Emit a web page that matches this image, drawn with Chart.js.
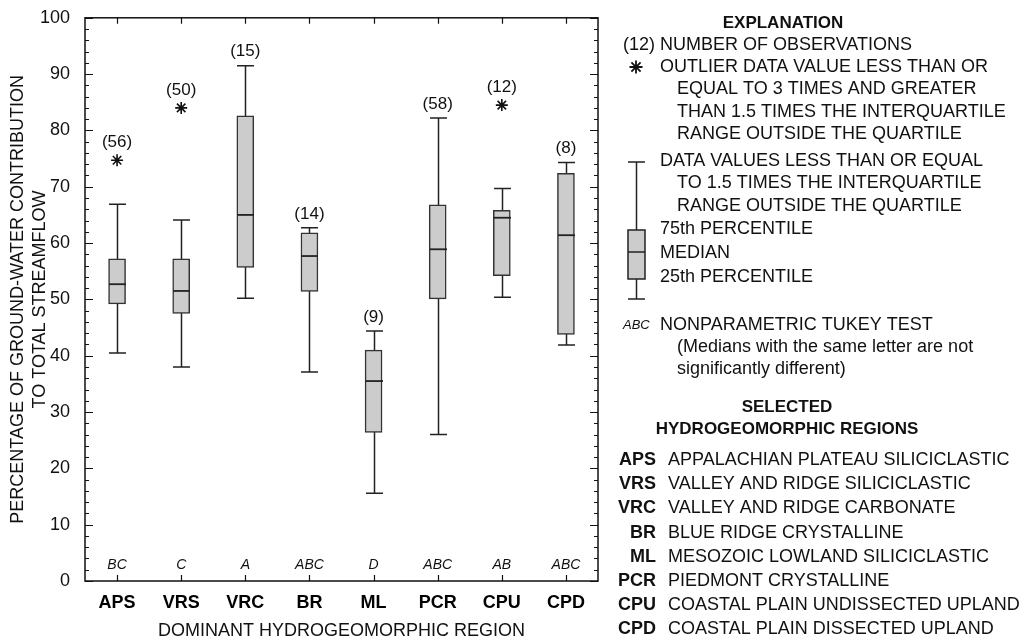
<!DOCTYPE html>
<html>
<head>
<meta charset="utf-8">
<script src="https://cdn.jsdelivr.net/npm/chart.js@4.4.0/dist/chart.umd.min.js"></script>
<style>
  html, body { margin: 0; padding: 0; background: #fff; }
  #wrap { position: relative; width: 1027px; height: 640px; }
</style>
</head>
<body>
<div id="wrap"><canvas id="chart" width="1027" height="640"></canvas></div>
<script>
// box plot statistics (percent)
const regions     = ['APS', 'VRS', 'VRC', 'BR', 'ML', 'PCR', 'CPU', 'CPD'];
const whiskerLow  = [40.5, 38.0, 50.2, 37.1, 15.6, 26.0, 50.4, 41.9];
const quartile1   = [49.2, 47.5, 55.7, 51.4, 26.4, 50.1, 54.2, 43.8];
const medians     = [52.7, 51.5, 65.0, 57.7, 35.5, 58.9, 64.5, 61.4];
const quartile3   = [57.2, 57.2, 82.6, 61.8, 41.0, 66.8, 65.8, 72.4];
const whiskerHigh = [66.9, 64.1, 91.5, 62.7, 44.4, 82.2, 69.7, 74.3];
const outliers    = [74.7, 84.0, null, null, null, null, 84.5, null];
const counts      = [56, 50, 15, 14, 9, 58, 12, 8];
const tukeyGroups = ['BC', 'C', 'A', 'ABC', 'D', 'ABC', 'AB', 'ABC'];

const regionNames = [
  'APPALACHIAN PLATEAU SILICICLASTIC',
  'VALLEY AND RIDGE SILICICLASTIC',
  'VALLEY AND RIDGE CARBONATE',
  'BLUE RIDGE CRYSTALLINE',
  'MESOZOIC LOWLAND SILICICLASTIC',
  'PIEDMONT CRYSTALLINE',
  'COASTAL PLAIN UNDISSECTED UPLAND',
  'COASTAL PLAIN DISSECTED UPLAND'
];

const FONT = '"Liberation Sans", Arial, Helvetica, sans-serif';
Chart.defaults.font.family = FONT;
Chart.defaults.color = '#111';

const BOX_W = 17;

// whiskers go under the boxes, medians on top
const boxPlot = {
  id: 'boxPlot',
  beforeDatasetsDraw(chart) {
    const { ctx, scales: { x, y } } = chart;
    ctx.save();
    ctx.strokeStyle = '#222';
    ctx.lineWidth = 1.5;
    regions.forEach((r, i) => {
      const px = Math.round(x.getPixelForValue(i)) + 0.5;
      const lo = y.getPixelForValue(whiskerLow[i]);
      const hi = y.getPixelForValue(whiskerHigh[i]);
      ctx.beginPath();
      ctx.moveTo(px, lo); ctx.lineTo(px, hi);
      ctx.moveTo(px - BOX_W / 2, lo); ctx.lineTo(px + BOX_W / 2, lo);
      ctx.moveTo(px - BOX_W / 2, hi); ctx.lineTo(px + BOX_W / 2, hi);
      ctx.stroke();
    });
    ctx.restore();
  },
  afterDatasetsDraw(chart) {
    const { ctx, scales: { x, y }, chartArea } = chart;
    ctx.save();
    ctx.strokeStyle = '#222';
    ctx.lineWidth = 1.8;
    regions.forEach((r, i) => {
      const px = Math.round(x.getPixelForValue(i)) + 0.5;
      const m = y.getPixelForValue(medians[i]);
      ctx.beginPath();
      ctx.moveTo(px - BOX_W / 2, m); ctx.lineTo(px + BOX_W / 2, m);
      ctx.stroke();
    });
    // number of observations above each box
    ctx.fillStyle = '#111';
    ctx.textAlign = 'center';
    ctx.textBaseline = 'middle';
    ctx.font = '17px ' + FONT;
    regions.forEach((r, i) => {
      const px = x.getPixelForValue(i);
      const top = outliers[i] != null ? y.getPixelForValue(outliers[i]) - 18 : y.getPixelForValue(whiskerHigh[i]) - 14;
      ctx.fillText('(' + counts[i] + ')', px, top);
    });
    // tukey letters
    ctx.font = 'italic 14px ' + FONT;
    regions.forEach((r, i) => {
      ctx.fillText(tukeyGroups[i], x.getPixelForValue(i), chartArea.bottom - 16);
    });
    ctx.restore();
  },
  afterDraw(chart) {
    const { ctx, scales: { x, y }, chartArea: a } = chart;
    ctx.save();
    ctx.strokeStyle = '#111';
    ctx.lineWidth = 1.5;
    ctx.strokeRect(a.left, a.top, a.right - a.left, a.bottom - a.top);
    ctx.lineWidth = 1.2;
    ctx.beginPath();
    regions.forEach((r, i) => {
      const px = Math.round(x.getPixelForValue(i)) + 0.5;
      ctx.moveTo(px, a.bottom); ctx.lineTo(px, a.bottom - 6);
      ctx.moveTo(px, a.top); ctx.lineTo(px, a.top + 6);
    });
    for (let v = 0; v <= 100; v += 2) {
      const py = Math.round(y.getPixelForValue(v)) + 0.5;
      const len = v % 10 === 0 ? 8 : 4;
      ctx.moveTo(a.left, py); ctx.lineTo(a.left + len, py);
      ctx.moveTo(a.right, py); ctx.lineTo(a.right - len, py);
    }
    ctx.stroke();
    ctx.restore();
    drawExplanation(chart);
  }
};

function drawExplanation(chart) {
  const { ctx } = chart;
  const T = 660, IND = 677;
  ctx.save();
  ctx.fillStyle = '#111';
  ctx.textBaseline = 'middle';
  const txt = (s, x, yy, f, align) => {
    ctx.font = f || ('18px ' + FONT);
    ctx.textAlign = align || 'left';
    ctx.fillText(s, x, yy);
  };
  txt('EXPLANATION', 783, 23, 'bold 17px ' + FONT, 'center');
  txt('(12)', 623, 45);
  txt('NUMBER OF OBSERVATIONS', T, 45);
  ctx.strokeStyle = '#111';
  ctx.lineWidth = 1.8;
  Chart.helpers.drawPoint(ctx, { pointStyle: 'star', radius: 6.5, borderWidth: 1.8 }, 636, 67);
  txt('OUTLIER DATA VALUE LESS THAN OR', T, 67);
  txt('EQUAL TO 3 TIMES AND GREATER', IND, 89);
  txt('THAN 1.5 TIMES THE INTERQUARTILE', IND, 112);
  txt('RANGE OUTSIDE THE QUARTILE', IND, 134);
  txt('DATA VALUES LESS THAN OR EQUAL', T, 161);
  txt('TO 1.5 TIMES THE INTERQUARTILE', IND, 183);
  txt('RANGE OUTSIDE THE QUARTILE', IND, 206);
  txt('75th PERCENTILE', T, 229);
  txt('MEDIAN', T, 253);
  txt('25th PERCENTILE', T, 277);

  // sample box
  const cx = 636.5;
  ctx.strokeStyle = '#222';
  ctx.lineWidth = 1.5;
  ctx.beginPath();
  ctx.moveTo(cx, 162); ctx.lineTo(cx, 299);
  ctx.moveTo(cx - 8.5, 162); ctx.lineTo(cx + 8.5, 162);
  ctx.moveTo(cx - 8.5, 299); ctx.lineTo(cx + 8.5, 299);
  ctx.stroke();
  ctx.fillStyle = '#cccccc';
  ctx.fillRect(cx - 8.5, 230, 17, 49);
  ctx.strokeRect(cx - 8.5, 230, 17, 49);
  ctx.beginPath();
  ctx.moveTo(cx - 8.5, 252); ctx.lineTo(cx + 8.5, 252);
  ctx.stroke();
  ctx.fillStyle = '#111';

  txt('ABC', 623, 325, 'italic 13px ' + FONT);
  txt('NONPARAMETRIC TUKEY TEST', T, 325);
  txt('(Medians with the same letter are not', IND, 347);
  txt('significantly different)', IND, 369);

  txt('SELECTED', 787, 407, 'bold 17px ' + FONT, 'center');
  txt('HYDROGEOMORPHIC REGIONS', 787, 429, 'bold 17px ' + FONT, 'center');
  regions.forEach((r, i) => {
    const yy = 460 + i * 24.2;
    txt(r, 656, yy, 'bold 18px ' + FONT, 'right');
    txt(regionNames[i], 668, yy);
  });
  ctx.restore();
}

new Chart(document.getElementById('chart'), {
  type: 'bar',
  data: {
    labels: regions,
    datasets: [
      {
        type: 'line',
        data: outliers,
        showLine: false,
        pointStyle: 'star',
        pointRadius: 6,
        pointBorderWidth: 1.6,
        borderColor: '#111',
        backgroundColor: '#111'
      },
      {
        data: regions.map((r, i) => [quartile1[i], quartile3[i]]),
        backgroundColor: '#cccccc',
        borderColor: '#333',
        borderWidth: 1.5,
        borderSkipped: false,
        barThickness: BOX_W
      }
    ]
  },
  options: {
    responsive: false,
    animation: false,
    layout: { padding: { top: 15, right: 429, left: 0, bottom: 0 } },
    plugins: { legend: { display: false }, tooltip: { enabled: false } },
    scales: {
      x: {
        grid: { display: false },
        border: { display: false },
        ticks: { font: { size: 18, weight: 'bold' }, color: '#000', padding: 3 },
        title: {
          display: true,
          text: 'DOMINANT HYDROGEOMORPHIC REGION',
          font: { size: 18, lineHeight: 1 },
          padding: 0,
          color: '#111'
        },
        afterFit: s => { s.height = 59; }
      },
      y: {
        min: 0,
        max: 100,
        grid: { display: false },
        border: { display: false },
        ticks: { stepSize: 10, font: { size: 18 }, color: '#111', padding: 7 },
        title: {
          display: true,
          text: ['PERCENTAGE OF GROUND-WATER CONTRIBUTION', 'TO TOTAL STREAMFLOW'],
          font: { size: 18, lineHeight: 1.22 },
          padding: { top: 7, bottom: 0 },
          color: '#111'
        },
        afterFit: s => { s.width = 85; }
      }
    }
  },
  plugins: [boxPlot]
});
</script>
</body>
</html>
